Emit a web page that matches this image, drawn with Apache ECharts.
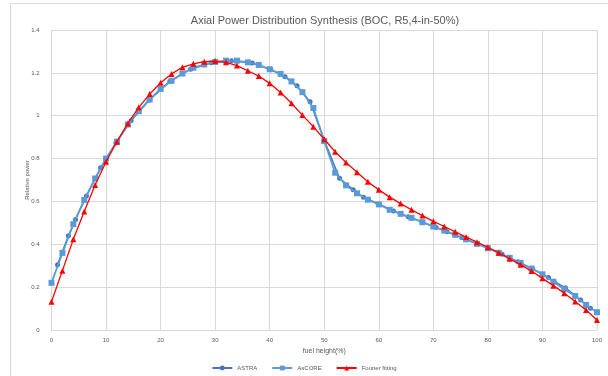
<!DOCTYPE html>
<html><head><meta charset="utf-8">
<script src="https://cdn.jsdelivr.net/npm/echarts@6/dist/echarts.min.js"></script>
<style>html,body{margin:0;padding:0;background:#fff}#c{width:608px;height:376px}</style>
</head><body><div id="c"></div>
<script>
const title = 'Axial Power Distribution Synthesis (BOC, R5,4-in-50%)';
const xTicks = [0,10,20,30,40,50,60,70,80,90,100];
const yTicks = [0,0.2,0.4,0.6,0.8,1,1.2,1.4];

const astraX = [1.1,3.1,4.4,6.4,9.0,11.8,14.6,17.9,21.7,25.5,29.3,33.0,36.8,40.2,42.8,45.0,47.4,50.0,52.8,55.3,57.2,60.0,62.7,65.4,67.9,70.5,72.5,75.2,77.9,80.0,82.6,85.5,88.2,91.1,92.1,94.2,97.0,98.8];
const astraY = [0.305,0.44,0.516,0.625,0.757,0.873,0.978,1.072,1.16,1.217,1.247,1.257,1.246,1.215,1.182,1.14,1.065,0.885,0.708,0.655,0.619,0.588,0.555,0.528,0.505,0.478,0.459,0.432,0.403,0.382,0.353,0.318,0.285,0.245,0.228,0.197,0.14,0.101];

const gridX = [0,2,4,6,8,10,12,14,16,18,20,22,24,26,28,30,32,34,36,38,40,42,44,46,48,50,52,54,56,58,60,62,64,66,68,70,72,74,76,78,80,82,84,86,88,90,92,94,96,98,100];
const ascoreY = [0.22,0.36,0.494,0.607,0.707,0.80,0.879,0.959,1.021,1.076,1.125,1.163,1.197,1.224,1.239,1.251,1.257,1.257,1.249,1.237,1.217,1.195,1.16,1.11,1.036,0.882,0.734,0.675,0.638,0.608,0.586,0.561,0.542,0.523,0.503,0.483,0.464,0.444,0.423,0.402,0.382,0.36,0.337,0.313,0.287,0.26,0.225,0.19,0.159,0.117,0.083];
const fourierY = [0.132,0.277,0.423,0.553,0.677,0.785,0.879,0.964,1.039,1.101,1.154,1.195,1.226,1.242,1.252,1.255,1.249,1.234,1.21,1.185,1.151,1.108,1.058,1.003,0.949,0.89,0.832,0.782,0.736,0.692,0.654,0.62,0.59,0.561,0.534,0.507,0.483,0.458,0.434,0.41,0.386,0.36,0.332,0.305,0.275,0.241,0.207,0.172,0.133,0.093,0.047];

const pair = (xs, ys) => xs.map((x,i)=>[x, ys[i]]);

const chart = echarts.init(document.getElementById('c'), null, {renderer:'canvas'});
const font = '"Liberation Sans", "DejaVu Sans", sans-serif';
chart.setOption({
  animation:false,
  backgroundColor:'#fff',
  textStyle:{fontFamily:font},
  title:{text:title, left:320, textAlign:'center', top:10, textStyle:{fontSize:11, fontWeight:'normal', color:'#595959', fontFamily:font}},
  graphic:[{type:'rect', shape:{x:10.5,y:3.5,width:600,height:380}, style:{fill:'none', stroke:'#d9d9d9', lineWidth:1}, silent:true}],
  grid:{left:51.5, right:11, top:30, bottom:46},
  legend:{bottom:0, left:'center', itemWidth:20, itemHeight:6, itemGap:14, textStyle:{fontSize:6, color:'#595959'},
    data:['ASTRA','AsCORE','Fourier fitting']},
  xAxis:{type:'value', min:0, max:100, interval:10, name:'fuel height(%)', nameLocation:'middle', nameGap:17,
    nameTextStyle:{fontSize:7, color:'#595959'},
    axisLine:{show:true, lineStyle:{color:'#d9d9d9'}}, axisTick:{show:false},
    axisLabel:{fontSize:6, color:'#595959', margin:7},
    splitLine:{show:true, lineStyle:{color:'#d9d9d9', width:1}}},
  yAxis:{type:'value', min:0, max:1.4, interval:0.2, name:'Relative power', nameLocation:'middle', nameGap:21,
    nameMoveOverlap:false,
    nameTextStyle:{fontSize:6, color:'#595959'},
    axisLine:{show:false}, axisTick:{show:false},
    axisLabel:{fontSize:6, color:'#595959', margin:12, formatter:v=>String(Math.round(v*10)/10)},
    splitLine:{show:true, lineStyle:{color:'#d9d9d9', width:1}}},
  series:[
    {name:'ASTRA', type:'line', data:pair(astraX, astraY), symbol:'circle', symbolSize:5,
      itemStyle:{color:'#4472C4'}, lineStyle:{color:'#4472C4', width:1.5}, z:2},
    {name:'AsCORE', type:'line', data:pair(gridX, ascoreY), symbol:'rect', symbolSize:6,
      itemStyle:{color:'#5B9BD5'}, lineStyle:{color:'#5B9BD5', width:1.8}, z:3},
    {name:'Fourier fitting', type:'line', data:pair(gridX, fourierY), symbol:'triangle', symbolSize:6,
      itemStyle:{color:'#FF0000'}, lineStyle:{color:'#FF0000', width:1.3}, z:4}
  ]
});
</script></body></html>
